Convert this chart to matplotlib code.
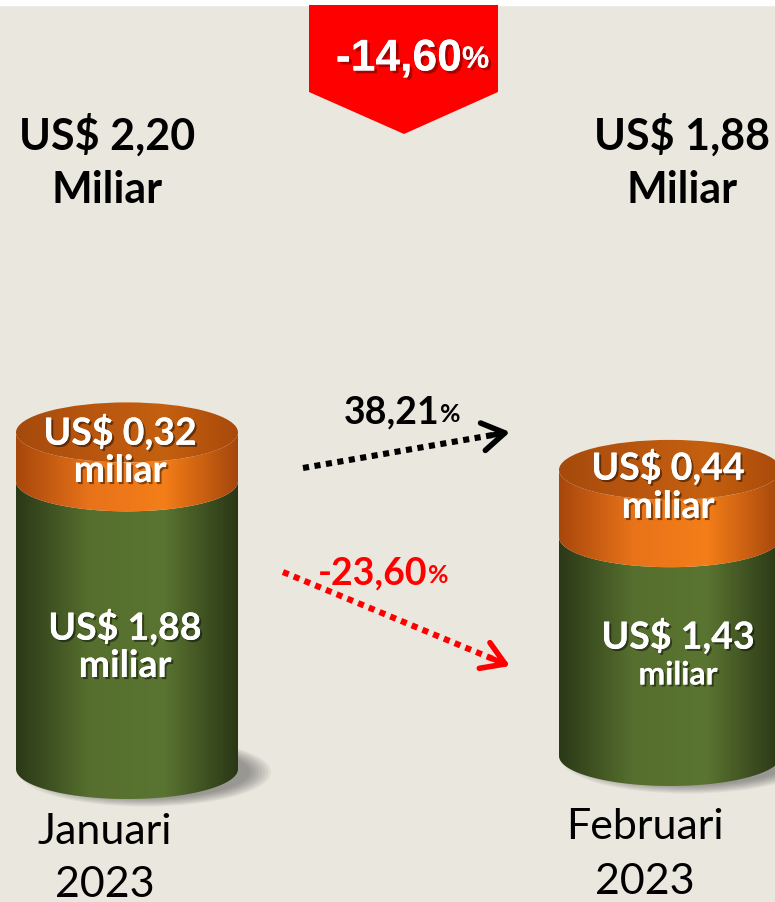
import numpy as np
import matplotlib.pyplot as plt
from matplotlib.patches import Polygon, Ellipse, Rectangle
from matplotlib.colors import LinearSegmentedColormap
import matplotlib.patheffects as pe

# data
months = ["Januari", "Februari"]
years = ["2023", "2023"]
green_vals = [1.88, 1.43]
orange_vals = [0.32, 0.44]
totals = [2.20, 1.88]
total_change = "-14,60"
orange_change = "38,21"
green_change = "-23,60"

# layout (pixels -> value units on y)
W, H = 775, 903
BASE_PX = 770
PX_PER_UNIT = 153.0
XC = [127, 670]
CYL_W = 222
BASE = [0.0, 13 / PX_PER_UNIT]
EH = 30 / PX_PER_UNIT  # half height of the ellipses

BG = "#EAE8DE"
GREEN = ["#2b3917", "#566f2e", "#5a7431", "#2a3715"]
ORANGE_SIDE = ["#a8470b", "#e8731a", "#f47e18", "#a5460c"]
ORANGE_TOP = ["#a54a0c", "#b8560f", "#c5600f", "#a9490b"]


def Y(py):
    return (BASE_PX - py) / PX_PER_UNIT


def money(v):
    return f"US$ {v:.2f}".replace(".", ",")


def grad_fill(ax, patch, x0, x1, y0, y1, colors, z):
    cm = LinearSegmentedColormap.from_list("g", colors)
    g = np.linspace(0, 1, 256).reshape(1, -1)
    patch.set_facecolor("none")
    patch.set_edgecolor("none")
    ax.add_patch(patch)
    im = ax.imshow(g, extent=[x0, x1, y0, y1], aspect="auto", cmap=cm,
                   zorder=z, interpolation="bilinear")
    im.set_clip_path(patch)


def side(ax, xc, w, y0, y1, colors, z):
    t = np.linspace(np.pi, 2 * np.pi, 80)
    top = np.column_stack([xc + w / 2 * np.cos(t), y1 + EH * np.sin(t)])
    bot = np.column_stack([xc + w / 2 * np.cos(t[::-1]), y0 + EH * np.sin(t[::-1])])
    poly = Polygon(np.vstack([top, bot]), closed=True)
    grad_fill(ax, poly, xc - w / 2, xc + w / 2, y0 - EH, y1 + EH, colors, z)


fig = plt.figure(figsize=(W / 100, H / 100), dpi=100)
fig.patch.set_facecolor(BG)
ax = fig.add_axes([0, 0, 1, 1])
ax.set_xlim(0, W)
ax.set_ylim(Y(H), Y(0))
ax.axis("off")
ax.add_patch(Rectangle((0, Y(6)), W, Y(0) - Y(6), color="white", zorder=1))

for i in range(2):
    xc, b = XC[i], BASE[i]
    g_top = b + green_vals[i]
    o_top = g_top + orange_vals[i]
    # soft shadow
    for k in range(8):
        ax.add_patch(Ellipse((xc + 18, b - 0.02), CYL_W + 30 - k * 6,
                             2 * EH * 1.15 - k * 0.015, color="#3a3a3a",
                             alpha=0.07, lw=0, zorder=2))
    side(ax, xc, CYL_W, b, g_top, GREEN, 3)
    side(ax, xc, CYL_W, g_top, o_top, ORANGE_SIDE, 4)
    top = Ellipse((xc, o_top), CYL_W, 2 * EH)
    grad_fill(ax, top, xc - CYL_W / 2, xc + CYL_W / 2, o_top - EH, o_top + EH,
              ORANGE_TOP, 5)

shadow = [pe.withSimplePatchShadow(offset=(1.5, -1.5), shadow_rgbFace="black", alpha=0.45), pe.Normal()]
lato = "Lato"

# labels inside cylinders
in_pos = [
    [(120, 433), (120, 472), (125, 628), (125, 667)],
    [(668, 468), (668, 508), (678, 637), (678, 676)],
]
for i in range(2):
    p = in_pos[i]
    ax.text(p[0][0], Y(p[0][1]), money(orange_vals[i]), ha="center", va="center",
            color="white", fontsize=27, fontweight="bold", family=lato, zorder=10, path_effects=shadow)
    ax.text(p[1][0], Y(p[1][1]), "miliar", ha="center", va="center",
            color="white", fontsize=27, fontweight="bold", family=lato, zorder=10, path_effects=shadow)
    ax.text(p[2][0], Y(p[2][1]), money(green_vals[i]), ha="center", va="center",
            color="white", fontsize=27, fontweight="bold", family=lato, zorder=10, path_effects=shadow)
    ax.text(p[3][0], Y(p[3][1]), "miliar", ha="center", va="center",
            color="white", fontsize=27 if i == 0 else 23, fontweight="bold", family=lato,
            zorder=10, path_effects=shadow)

# totals on top
tot_pos = [(107, 135, 190), (682, 135, 190)]
for i in range(2):
    x, y1, y2 = tot_pos[i]
    ax.text(x, Y(y1), money(totals[i]), ha="center", va="center", fontsize=31,
            fontweight="bold", family=lato, color="black")
    ax.text(x, Y(y2), "Miliar", ha="center", va="center", fontsize=31,
            fontweight="bold", family=lato, color="black")

# month labels
mon_pos = [(105, 832, 885), (645, 827, 882)]
for i in range(2):
    x, y1, y2 = mon_pos[i]
    ax.text(x, Y(y1), months[i], ha="center", va="center", fontsize=31, family=lato, color="black")
    ax.text(x, Y(y2), years[i], ha="center", va="center", fontsize=31, family=lato, color="black")

# red badge
badge = [(309, 6), (498, 6), (498, 93), (404, 135), (309, 93)]
ax.add_patch(Polygon([(x, Y(y)) for x, y in badge], closed=True, color="#ff0000", lw=0, zorder=6))
red_shadow = [pe.withSimplePatchShadow(offset=(2, -2), shadow_rgbFace="#700000", alpha=0.6), pe.Normal()]
t = ax.text(462, Y(60), total_change, ha="right", va="center", fontsize=32, fontweight="bold",
            family="Liberation Sans", color="white", zorder=8, path_effects=red_shadow)
ax.annotate("%", xy=(1, 0.12), xycoords=t, ha="left", va="bottom", fontsize=22, fontweight="bold",
            family="Liberation Sans", color="white", zorder=8, path_effects=red_shadow)


# dotted arrows
def dotted_arrow(p0, p1, color):
    x0, y0 = p0
    x1, y1 = p1
    f = 0.93
    xm, ym = x0 + (x1 - x0) * f, y0 + (y1 - y0) * f
    ax.plot([x0, xm], [Y(y0), Y(ym)], color=color, lw=4.4, linestyle=(0, (1, 0.9)), zorder=7)
    ax.annotate("", xy=(x1, Y(y1)), xytext=(xm - (x1 - x0) * 0.02, Y(ym - (y1 - y0) * 0.02)),
                arrowprops=dict(arrowstyle="->,head_length=0.8,head_width=0.5", lw=4,
                                color=color, mutation_scale=20, shrinkA=0, shrinkB=0), zorder=7)


dotted_arrow((303, 469), (510, 433), "black")
dotted_arrow((283, 573), (510, 667), "#ff0000")

t1 = ax.text(440, Y(412), orange_change, ha="right", va="center", fontsize=27, fontweight="bold",
             family=lato, color="black")
ax.annotate("%", xy=(1, 0.1), xycoords=t1, ha="left", va="bottom", fontsize=18, fontweight="bold",
            family=lato, color="black")
t2 = ax.text(428, Y(573), green_change, ha="right", va="center", fontsize=27, fontweight="bold",
             family=lato, color="#ff0000")
ax.annotate("%", xy=(1, 0.1), xycoords=t2, ha="left", va="bottom", fontsize=18, fontweight="bold",
            family=lato, color="#ff0000")

fig.savefig("out.png", dpi=100, facecolor=BG)
